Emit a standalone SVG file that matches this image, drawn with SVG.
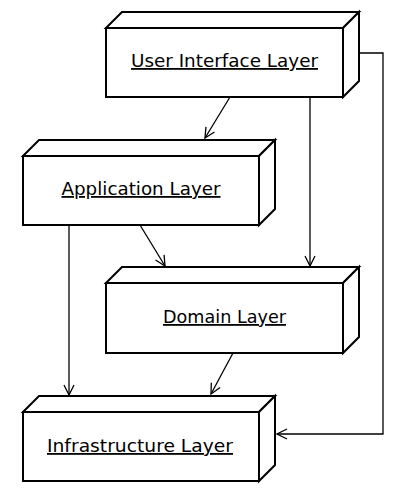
<svg xmlns="http://www.w3.org/2000/svg" width="400" height="492" viewBox="0 0 400 492">
<style>
.face{fill:#fff;stroke:#000;stroke-width:2;stroke-linejoin:miter}
.lbl{font-family:"DejaVu Sans",sans-serif;font-size:18px;fill:#000;text-anchor:middle;text-decoration:underline}
.conn{fill:none;stroke:#000;stroke-width:1.3}
</style>
<defs>
<marker id="open" viewBox="0 0 12 12" refX="11" refY="6" markerWidth="12" markerHeight="12" markerUnits="userSpaceOnUse" orient="auto">
<path d="M1,1 L11,6 L1,11" fill="none" stroke="#000" stroke-width="1.3"/>
</marker>
</defs>
<rect width="400" height="492" fill="#fff"/>
<g id="connectors">
<path class="conn" d="M230,97 L205,138" marker-end="url(#open)"/>
<path class="conn" d="M310,97 L310,266" marker-end="url(#open)"/>
<path class="conn" d="M359,53 L383,53 L383,434 L277,434" marker-end="url(#open)"/>
<path class="conn" d="M140,225 L165,266" marker-end="url(#open)"/>
<path class="conn" d="M69,225 L69,395" marker-end="url(#open)"/>
<path class="conn" d="M233,353 L211,394" marker-end="url(#open)"/>
</g>
<g id="ui">
<polygon class="face" points="106,28 122,12 359,12 343,28"/>
<polygon class="face" points="343,28 359,12 359,81 343,97"/>
<rect class="face" x="106" y="28" width="237" height="69"/>
<text class="lbl" x="224.5" y="67" textLength="187" lengthAdjust="spacingAndGlyphs">User Interface Layer</text>
</g>
<g id="app">
<polygon class="face" points="23,156 39,140 275,140 259,156"/>
<polygon class="face" points="259,156 275,140 275,209 259,225"/>
<rect class="face" x="23" y="156" width="236" height="69"/>
<text class="lbl" x="141" y="195" textLength="159" lengthAdjust="spacingAndGlyphs">Application Layer</text>
</g>
<g id="domain">
<polygon class="face" points="106,283 122,267 359,267 343,283"/>
<polygon class="face" points="343,283 359,267 359,337 343,353"/>
<rect class="face" x="106" y="283" width="237" height="70"/>
<text class="lbl" x="224.5" y="323" textLength="123" lengthAdjust="spacingAndGlyphs">Domain Layer</text>
</g>
<g id="infra">
<polygon class="face" points="23,412 39,396 275,396 259,412"/>
<polygon class="face" points="259,412 275,396 275,465 259,481"/>
<rect class="face" x="23" y="412" width="236" height="69"/>
<text class="lbl" x="140" y="452" textLength="186" lengthAdjust="spacingAndGlyphs">Infrastructure Layer</text>
</g>
</svg>
